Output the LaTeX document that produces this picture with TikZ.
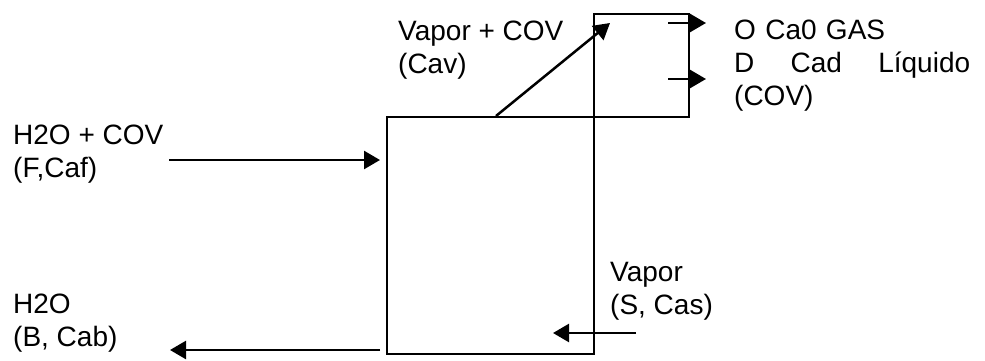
\documentclass[tikz,border=0pt]{standalone}
\usepackage{fontspec}
\setmainfont{Liberation Sans}
\usetikzlibrary{arrows.meta}

\begin{document}
\begin{tikzpicture}[x=1pt, y=-1pt,
  unit/.style={draw, line width=2.2pt, inner sep=0pt, anchor=north west},
  flow/.style={line width=2.5pt, -{Triangle[length=16pt,width=18pt]}},
  lbl/.style={anchor=base west, inner sep=0pt, align=left, font=\fontsize{28}{33}\selectfont}]
  \useasboundingbox (0,0) rectangle (985,361);
  % draw tank and condenser boxes
  \node[unit, minimum width=207pt, minimum height=237pt] (tank) at (386,116) {};
  \node[unit, minimum width=95pt, minimum height=103pt] (cond) at (593,13) {};
  % end points of the streams
  \coordinate (feed_pt0) at (169,160);
  \coordinate (feed_pt1) at (380,160);
  \coordinate (btm_pt0) at (380,350);
  \coordinate (btm_pt1) at (170,350);
  \coordinate (stm_pt0) at (636,333);
  \coordinate (stm_pt1) at (553,333);
  \coordinate (vap_pt0) at (496,116);
  \coordinate (vap_pt1) at (610,23);
  \coordinate (gas_pt0) at (668,23);
  \coordinate (gas_pt1) at (706,23);
  \coordinate (liq_pt0) at (668,79);
  \coordinate (liq_pt1) at (706,79);
  % draw stream arrows
  \draw[flow] (feed_pt0) -- (feed_pt1);
  \draw[flow] (btm_pt0) -- (btm_pt1);
  \draw[flow] (stm_pt0) -- (stm_pt1);
  \draw[flow] (vap_pt0) -- (vap_pt1);
  \draw[flow] (gas_pt0) -- (gas_pt1);
  \draw[flow] (liq_pt0) -- (liq_pt1);
  % stream labels (anchored on their last line)
  \node[lbl] (vapcov_lbl) at (398,74) {Vapor + COV\\(Cav)};
  \node[lbl] (feed_lbl) at (13,177) {H2O + COV\\(F,Caf)};
  \node[lbl] (btm_lbl) at (13,346) {H2O\\(B, Cab)};
  \node[lbl] (stm_lbl) at (610,314) {Vapor\\(S, Cas)};
  \node[lbl, text width=236pt] (out_lbl) at (734,40) {O Ca0 GAS\\D\hfill Cad\hfill Líquido\\(COV)};
\end{tikzpicture}
\end{document}
